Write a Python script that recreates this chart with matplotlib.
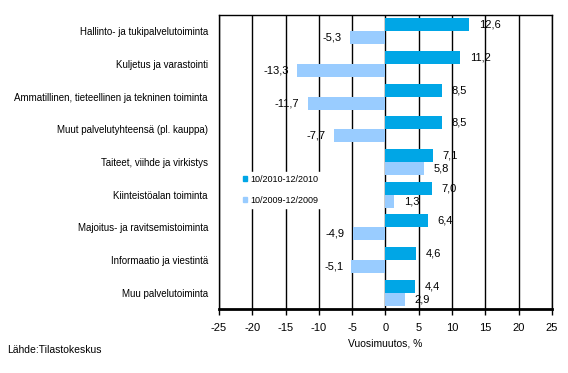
import matplotlib.pyplot as plt
import numpy as np
from matplotlib.patches import Patch

plt.rcParams['font.family'] = ['Liberation Sans', 'DejaVu Sans']

# categories, top to bottom
categories = ['Hallinto- ja tukipalvelutoiminta', 'Kuljetus ja varastointi',
              'Ammatillinen, tieteellinen ja tekninen toiminta',
              'Muut palvelutyhteensä (pl. kauppa)', 'Taiteet, viihde ja virkistys',
              'Kiinteistöalan toiminta', 'Majoitus- ja ravitsemistoiminta',
              'Informaatio ja viestintä', 'Muu palvelutoiminta']
values_2010 = [12.6, 11.2, 8.5, 8.5, 7.1, 7.0, 6.4, 4.6, 4.4]
values_2009 = [-5.3, -13.3, -11.7, -7.7, 5.8, 1.3, -4.9, -5.1, 2.9]
series_labels = ['10/2010-12/2010', '10/2009-12/2009']
x_ticks = [-25, -20, -15, -10, -5, 0, 5, 10, 15, 20, 25]

dark = '#00A6E6'
light = '#99CCFF'

fig = plt.figure(figsize=(5.68, 3.73), dpi=100)
ax = fig.add_axes([0.3856, 0.1716, 0.586, 0.7882])

y_pos = np.arange(len(categories))
bar_h = 0.4
ax.barh(y_pos - bar_h / 2, values_2010, height=bar_h, color=dark, zorder=3)
ax.barh(y_pos + bar_h / 2, values_2009, height=bar_h, color=light, zorder=3)

# value labels, comma decimals
for i in range(len(categories)):
    for val, off in ((values_2010[i], -bar_h / 2), (values_2009[i], bar_h / 2)):
        txt = ('%.1f' % val).replace('.', ',')
        if val >= 0:
            ax.annotate(txt, (val, i + off), xytext=(7, 0), textcoords='offset points',
                        ha='left', va='center', fontsize=8, zorder=4)
        else:
            ax.annotate(txt, (val, i + off), xytext=(-6, 0), textcoords='offset points',
                        ha='right', va='center', fontsize=8, zorder=4)

ax.set_xlim(-25, 25)
ax.set_ylim(len(categories) - 0.5, -0.5)
ax.set_xticks(x_ticks)
ax.set_xticklabels([str(t) for t in x_ticks], fontsize=8)
ax.set_yticks(y_pos)
ax.set_yticklabels(categories, fontsize=7)
ax.tick_params(axis='y', length=0, pad=8)
ax.tick_params(axis='x', direction='out', length=4, width=1, pad=6)
ax.grid(axis='x', color='black', linewidth=1, zorder=1)
for s in ax.spines.values():
    s.set_linewidth(1)
ax.spines['bottom'].set_linewidth(2)
ax.set_xlabel('Vuosimuutos, %', fontsize=7.5, labelpad=4)

handles = [Patch(color=dark), Patch(color=light)]
leg = ax.legend(handles, series_labels, loc='center left', bbox_to_anchor=(0.05, 0.405),
                fontsize=6.5, frameon=True, fancybox=False, handlelength=0.5, handleheight=0.5,
                handletextpad=0.3, labelspacing=1.3, borderpad=0.3)
leg.get_frame().set_edgecolor('white')
leg.get_frame().set_facecolor('white')
leg.get_frame().set_alpha(1)
leg.set_zorder(5)

fig.text(0.012, 0.054, 'Lähde:Tilastokeskus', fontsize=7.5)

fig.savefig('out.png', dpi=100)
